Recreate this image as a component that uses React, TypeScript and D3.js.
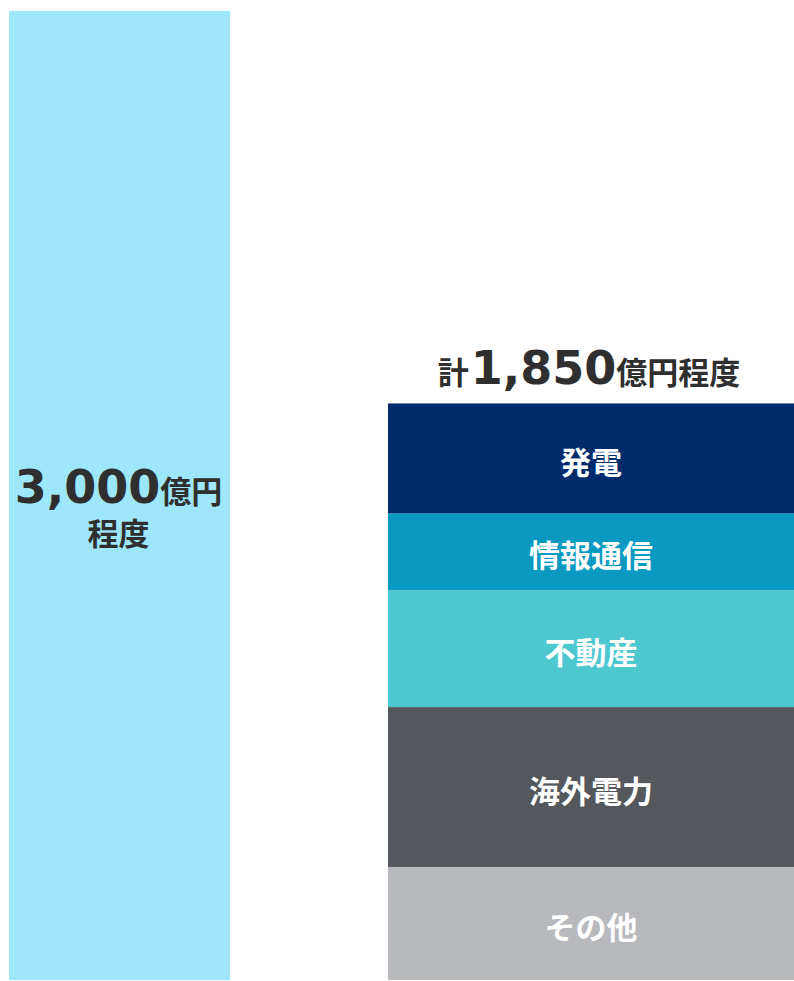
import React from "react";
import * as d3 from "d3";

const totalLeft = 3000;
const totalLabelRight = "1,850";
const segNames = ["発電", "情報通信", "不動産", "海外電力", "その他"];
const segValues = [340, 238, 362, 495, 350];
const segColors = ["#002c6e", "#0a99c0", "#4ec8d0", "#54575c", "#b8b9bc"];
const leftColor = "#9ee6fa";

const W = 794;
const H = 981;
const FONT = "'DejaVu Sans', 'Noto Sans CJK JP', sans-serif";
const CJK = "'Noto Sans CJK JP', sans-serif";

export default function App() {
  const y = d3.scaleLinear().domain([0, totalLeft]).range([980, 11]);
  const x = d3.scaleOrdinal<string, [number, number]>()
    .domain(["left", "right"])
    .range([[9, 230], [388, 794]]);

  // stack from the bottom: last category sits at the bottom
  const keys = segNames.slice().reverse();
  const stackData = [Object.fromEntries(segNames.map((n, i) => [n, segValues[i]]))];
  const series = d3.stack<any>().keys(keys)(stackData as any);
  const colorOf = (n: string) => segColors[segNames.indexOf(n)];
  const rightTop = y(d3.sum(segValues));
  const [lx0, lx1] = x("left");
  const [rx0, rx1] = x("right");
  const rcx = (rx0 + rx1) / 2;
  const lcx = (lx0 + lx1) / 2;

  return (
    <svg width={W} height={H} style={{ position: "absolute", left: 0, top: 0, background: "#fff" }}>
      <rect x={lx0} y={y(totalLeft)} width={lx1 - lx0} height={y(0) - y(totalLeft)} fill={leftColor} />
      <text x={lcx - 1} y={503} textAnchor="middle" fill="#2f2f2f" fontWeight="bold" fontFamily={FONT}>
        <tspan fontSize={46}>{d3.format(",")(totalLeft)}</tspan>
        <tspan fontSize={31} fontFamily={CJK}>億円</tspan>
      </text>
      <text x={lcx - 1} y={545} textAnchor="middle" fill="#2f2f2f" fontWeight="bold" fontFamily={CJK} fontSize={31}>程度</text>

      {series.map((s) => {
        const d = s[0];
        const y0 = y(d[0]);
        const y1 = y(d[1]);
        const name = s.key as string;
        return (
          <g key={name}>
            <rect x={rx0} y={y1} width={rx1 - rx0} height={y0 - y1} fill={colorOf(name)} />
            <text x={rcx} y={(y0 + y1) / 2 + 2} textAnchor="middle" dominantBaseline="central"
              fill="#fff" fontWeight="bold" fontFamily={CJK} fontSize={31}>{name}</text>
          </g>
        );
      })}

      <text x={rcx - 2} y={rightTop - 19} textAnchor="middle" fill="#2f2f2f" fontWeight="bold" fontFamily={FONT}>
        <tspan fontSize={31} fontFamily={CJK}>計</tspan>
        <tspan fontSize={46} dx={2}>{totalLabelRight}</tspan>
        <tspan fontSize={31} fontFamily={CJK}>億円程度</tspan>
      </text>
    </svg>
  );
}
